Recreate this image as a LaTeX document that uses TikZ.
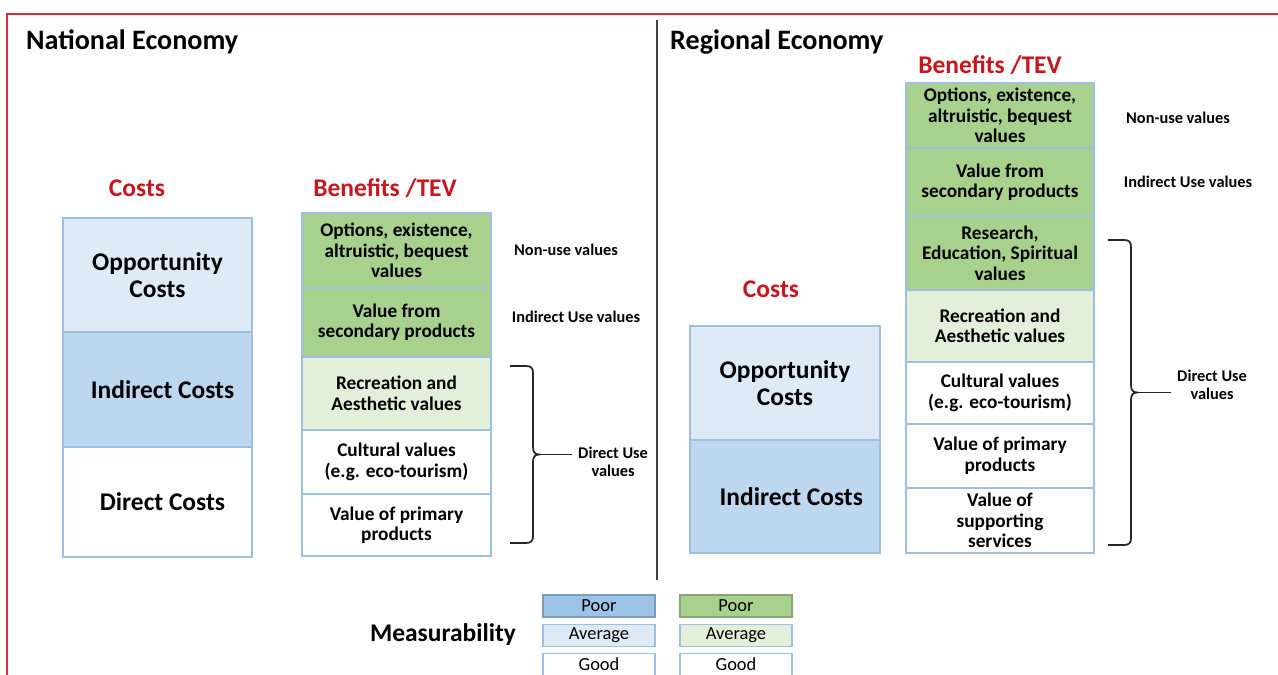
\documentclass[tikz,border=0pt]{standalone}
\usepackage{fontspec}
\setmainfont{Carlito}
\usetikzlibrary{positioning}

\definecolor{framered}{HTML}{D2323A}
\definecolor{headred}{HTML}{C8161E}
\definecolor{cellline}{HTML}{9DBFE0}
\definecolor{bluedark}{HTML}{BDD7EE}
\definecolor{bluelight}{HTML}{DEEBF7}
\definecolor{bluepoor}{HTML}{9DC3E6}
\definecolor{greendark}{HTML}{A9D18E}
\definecolor{greenlight}{HTML}{E2F0D9}

\tikzset{
  cell/.style={draw=cellline, line width=0.8pt, outer sep=0pt, inner sep=1pt, align=center},
  costcell/.style={cell, minimum width=3.78cm, font=\bfseries\fontsize{14.5}{15.5}\selectfont},
  valcell/.style={cell, minimum width=3.78cm, font=\bfseries\fontsize{11}{11.6}\selectfont},
  sidelab/.style={font=\bfseries\fontsize{9.3}{10.2}\selectfont, align=center},
  heading/.style={font=\bfseries\fontsize{16}{18}\selectfont, anchor=west},
  redhead/.style={text=headred, font=\bfseries\fontsize{14.5}{16}\selectfont},
  legcell/.style={draw=cellline, line width=0.8pt, minimum width=2.24cm, minimum height=0.44cm, inner sep=0pt, font=\fontsize{10.5}{11}\selectfont},
  bracel/.style={line width=1pt, black!85}
}

\begin{document}
\begin{tikzpicture}[x=0.02cm, y=-0.02cm]
\useasboundingbox (0,0) rectangle (1278,675);

% frame and divider
\draw[framered, line width=1.6pt] (1278,14) -- (7,14) -- (7,675);
\draw[black!75, line width=1pt] (657,20) -- (657,580);

% national economy
\node[heading] (natHead) at (20,42) {National Economy};
\node[redhead] (natCost) at (137,188) {Costs};
\node[redhead] (natBen) at (385,188) {Benefits /TEV};

\node[costcell, fill=bluelight, minimum height=2.28cm, anchor=north] (natOpp) at (157.5,218) {Opportunity\\Costs};
\node[costcell, fill=bluedark, minimum height=2.30cm, below=0pt of natOpp] (natInd) {\hspace*{0.2cm}Indirect Costs};
\node[costcell, fill=white, minimum height=2.20cm, below=0pt of natInd] (natDir) {\hspace*{0.2cm}Direct Costs};

\node[valcell, fill=greendark, minimum height=1.50cm, anchor=north] (natOpt) at (396.5,213) {Options, existence,\\altruistic, bequest\\values};
\node[valcell, fill=greendark, minimum height=1.38cm, below=0pt of natOpt] (natSec) {Value from\\secondary products};
\node[valcell, fill=greenlight, minimum height=1.46cm, below=0pt of natSec] (natRec) {Recreation and\\Aesthetic values};
\node[valcell, fill=white, minimum height=1.28cm, below=0pt of natRec] (natCul) {Cultural values\\(e.g. eco-tourism)};
\node[valcell, fill=white, minimum height=1.24cm, below=0pt of natCul] (natPri) {Value of primary\\products};

\node[sidelab] (natNon) at (566,250) {Non-use values};
\node[sidelab] (natIndUse) at (576,317) {Indirect Use values};
\node[sidelab, anchor=west] (natDirUse) at (572,462) {Direct Use\\values};

\draw[bracel] (510,366) -- (526,366) .. controls (531,366) and (533,368) .. (533,373) -- (533,447)
  .. controls (533,452) and (535,454.5) .. (539,454.5) .. controls (535,454.5) and (533,457) .. (533,462)
  -- (533,536) .. controls (533,541) and (531,543) .. (526,543) -- (510,543);
\coordinate (natTip) at (539,454.5);
\draw[bracel] (natTip) -- (natTip -| natDirUse.west);

% regional economy
\node[heading] (regHead) at (664,42) {Regional Economy};
\node[redhead] (regBen) at (990,65) {Benefits /TEV};
\node[redhead] (regCost) at (771,289) {Costs};

\node[costcell, fill=bluelight, minimum height=2.28cm, minimum width=3.80cm, anchor=north] (regOpp) at (785,326) {Opportunity\\Costs};
\node[costcell, fill=bluedark, minimum height=2.26cm, minimum width=3.80cm, below=0pt of regOpp] (regInd) {\hspace*{0.25cm}Indirect Costs};

\node[valcell, fill=greendark, minimum height=1.30cm, minimum width=3.76cm, anchor=north] (regOpt) at (1000,83) {Options, existence,\\altruistic, bequest\\values};
\node[valcell, fill=greendark, minimum height=1.36cm, minimum width=3.76cm, below=0pt of regOpt] (regSec) {Value from\\secondary products};
\node[valcell, fill=greendark, minimum height=1.48cm, minimum width=3.76cm, below=0pt of regSec] (regRes) {Research,\\Education, Spiritual\\values};
\node[valcell, fill=greenlight, minimum height=1.44cm, minimum width=3.76cm, below=0pt of regRes] (regRec) {Recreation and\\Aesthetic values};
\node[valcell, fill=white, minimum height=1.24cm, minimum width=3.76cm, below=0pt of regRec] (regCul) {Cultural values\\(e.g. eco-tourism)};
\node[valcell, fill=white, minimum height=1.28cm, minimum width=3.76cm, below=0pt of regCul] (regPri) {Value of primary\\products};
\node[valcell, fill=white, minimum height=1.30cm, minimum width=3.76cm, below=0pt of regPri] (regSup) {Value of\\supporting\\services};

\node[sidelab] (regNon) at (1178,118) {Non-use values};
\node[sidelab] (regIndUse) at (1188,182) {Indirect Use values};
\node[sidelab, anchor=west] (regDirUse) at (1171,385) {Direct Use\\values};

\draw[bracel] (1108,240) -- (1124,240) .. controls (1129,240) and (1131,242) .. (1131,247) -- (1131,385)
  .. controls (1131,390) and (1133,392.5) .. (1137,392.5) .. controls (1133,392.5) and (1131,395) .. (1131,400)
  -- (1131,538) .. controls (1131,543) and (1129,545) .. (1124,545) -- (1108,545);
\coordinate (regTip) at (1137,392.5);
\draw[bracel] (regTip) -- (regTip -| regDirUse.west);

% measurability legend
\node[font=\bfseries\fontsize{14.5}{16}\selectfont] (meas) at (443,635) {Measurability};
\node[legcell, fill=bluepoor, draw=bluepoor!80!black] (bluePoor) at (599,606) {Poor};
\node[legcell, fill=bluelight] (blueAvg) at (599,635.5) {Average};
\node[legcell, fill=white] (blueGood) at (599,664.5) {Good};
\node[legcell, fill=greendark, draw=greendark!80!black] (greenPoor) at (736,606) {Poor};
\node[legcell, fill=greenlight] (greenAvg) at (736,635.5) {Average};
\node[legcell, fill=white] (greenGood) at (736,664.5) {Good};
\end{tikzpicture}
\end{document}
